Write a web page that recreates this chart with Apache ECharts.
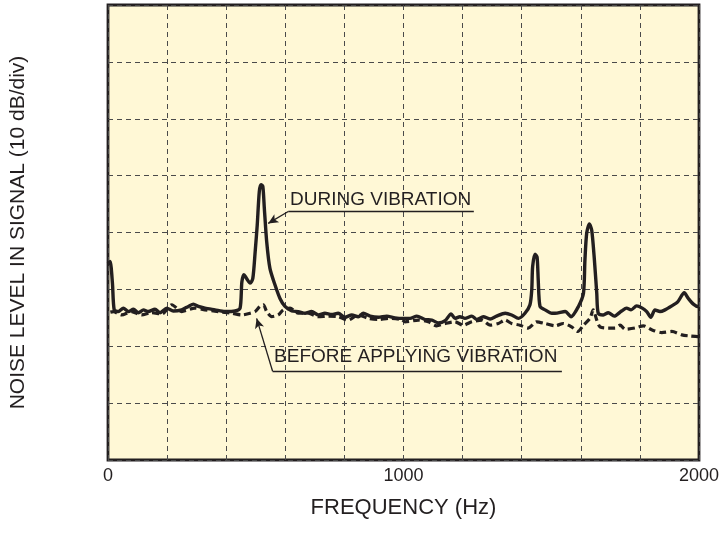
<!DOCTYPE html>
<html>
<head>
<meta charset="utf-8">
<script src="https://cdn.jsdelivr.net/npm/echarts@6/dist/echarts.min.js"></script>
<style>
html,body{margin:0;padding:0;background:#fff;}
#c{width:721px;height:549px;}
</style>
</head>
<body>
<div id="c"></div>
<script>
// ---- data (frequency in Hz, level in dB; 10 dB per division) ----
var xTickLabels = [0, 1000, 2000];
var duringFreq = [0,7,15,21,35,52,69,86,103,120,136,159,176,199,221,249,272,289,306,328,362,396,430,447,453,460,469,481,490,498,505,512,518,524,529,537,548,565,582,599,622,644,667,689,712,734,757,779,802,825,847,864,887,915,943,971,999,1022,1045,1073,1096,1118,1141,1161,1174,1191,1208,1231,1248,1270,1293,1315,1344,1366,1389,1411,1428,1434,1437,1445,1452,1456,1462,1479,1502,1513,1547,1567,1592,1609,1614,1620,1629,1637,1646,1654,1659,1676,1693,1713,1738,1755,1770,1789,1808,1823,1837,1851,1868,1885,1908,1928,1950,1964,1981,1996,2000];
var duringDb = [34.5,34.9,31.1,26.4,26.1,26.7,26.1,26.5,25.9,26.4,26.1,26.5,25.9,26.7,26.2,26.4,27.0,27.4,27.0,26.7,26.4,26.1,26.2,26.7,31.3,32.6,31.9,31.1,31.9,36.6,41.3,47.2,48.4,48.1,44.3,38.4,33.7,30.8,28.4,27.0,26.2,26.1,25.8,26.1,25.5,25.8,25.6,25.8,25.1,25.5,25.2,25.8,25.3,25.1,25.3,25.0,24.9,24.9,25.3,24.7,24.6,24.1,24.5,25.7,24.9,25.2,24.9,25.3,24.7,25.2,24.8,25.3,25.8,25.5,24.9,25.8,27.3,29.9,34.0,36.2,35.7,31.6,27.0,26.4,25.8,25.8,26.1,25.2,27.0,29.3,35.2,39.9,41.5,40.4,35.2,29.3,25.8,25.5,25.9,25.3,26.2,26.7,26.4,27.1,26.7,26.1,25.1,26.4,26.1,26.4,27.1,27.8,29.4,28.4,27.4,27.0,27.0];
var beforeFreq = [8,18,46,80,114,148,182,216,249,294,328,373,419,453,481,498,514,526,537,554,576,593,616,644,678,712,746,779,813,847,881,915,949,994,1005,1050,1084,1112,1141,1174,1202,1231,1265,1293,1321,1344,1366,1394,1422,1451,1479,1513,1541,1569,1590,1609,1631,1642,1654,1665,1693,1716,1733,1750,1783,1812,1840,1874,1908,1942,1970,1996,2000];
var beforeDb = [26.0,26.1,25.5,26.1,25.5,25.9,25.7,27.3,26.1,26.7,26.4,26.1,25.8,25.5,25.8,26.1,27.0,27.3,26.1,25.2,25.5,26.4,26.7,25.8,25.8,25.2,25.3,25.2,24.6,25.5,24.9,24.7,24.9,24.7,24.3,24.6,24.3,23.6,24.0,24.3,23.7,24.3,24.6,23.7,24.0,24.6,24.0,23.7,23.2,24.3,24.0,23.6,24.0,23.4,22.6,23.7,24.9,26.4,24.6,23.4,23.2,23.2,23.7,23.0,23.2,23.6,22.9,22.4,22.6,22.0,21.8,21.7,21.7];
// annotation anchors in data units
var duringLabel = {text:'DURING VIBRATION', f:616, db:45.8, lineStart:[610,43.7], lineEnd:[1238,43.7], tip:[542,41.6]};
var beforeLabel = {text:'BEFORE APPLYING VIBRATION', f:562, db:18.2, lineStart:[557,15.6], lineEnd:[1536,15.6], tip:[503,24.9]};

function pairs(a,b){return a.map(function(v,i){return [v,b[i]];});}

var INK = '#231f20';
var chart = echarts.init(document.getElementById('c'), null, {renderer:'canvas'});
var font = 'Liberation Sans, Arial, Helvetica, sans-serif';

function annLines(a){
  return [
    [{coord:a.lineStart, symbol:'none'},{coord:a.tip, symbol:'arrow'}],
    [{coord:a.lineStart, symbol:'none'},{coord:a.lineEnd, symbol:'none'}]
  ];
}

chart.setOption({
  animation:false,
  backgroundColor:'#ffffff',
  grid:{left:108, top:5, width:591, height:455, show:true, backgroundColor:'#fff8d6', borderColor:INK, borderWidth:2.8, containLabel:false, outerBoundsMode:'none'},
  xAxis:{type:'value', min:0, max:2000, interval:200,
    axisLine:{show:false}, axisTick:{show:false},
    splitLine:{show:true, lineStyle:{color:'#4a4a4a', width:1, type:[5,4]}},
    axisLabel:{show:true, margin:7, color:INK, fontSize:18, fontFamily:font,
      formatter:function(v){return xTickLabels.indexOf(v)>=0 ? String(v) : '';}},
    name:'FREQUENCY (Hz)', nameLocation:'middle', nameGap:37,
    nameTextStyle:{color:INK, fontSize:22, fontFamily:font}
  },
  yAxis:{type:'value', min:0, max:80, interval:10,
    axisLine:{show:false}, axisTick:{show:false}, axisLabel:{show:false},
    splitLine:{show:true, lineStyle:{color:'#4a4a4a', width:1, type:[5,4]}},
    name:'NOISE LEVEL IN SIGNAL (10 dB/div)', nameLocation:'middle', nameGap:79, nameRotate:90,
    nameTextStyle:{color:INK, fontSize:21, fontFamily:font}
  },
  series:[
    {type:'line', data:pairs(beforeFreq,beforeDb), showSymbol:false, smooth:0.25,
      lineStyle:{color:INK, width:3.2, type:[7,4]}, z:3},
    {type:'line', data:pairs(duringFreq,duringDb), showSymbol:false, smooth:0.25,
      lineStyle:{color:INK, width:3.4}, z:4},
    {type:'line', data:[], markLine:{silent:true, symbolSize:[7,10], animation:false,
      lineStyle:{color:INK, width:1.3, type:'solid'}, label:{show:false},
      data:annLines(duringLabel).concat(annLines(beforeLabel))}}
  ]
});

function place(){
  var g=[];
  [duringLabel,beforeLabel].forEach(function(a){
    var p = chart.convertToPixel({gridIndex:0},[a.f,a.db]);
    g.push({type:'text', x:p[0], y:p[1], style:{text:a.text, fill:INK, font:'19px '+font, textAlign:'left', textVerticalAlign:'middle'}, z:10});
  });
  chart.setOption({graphic:g});
}
place();
</script>
</body>
</html>
